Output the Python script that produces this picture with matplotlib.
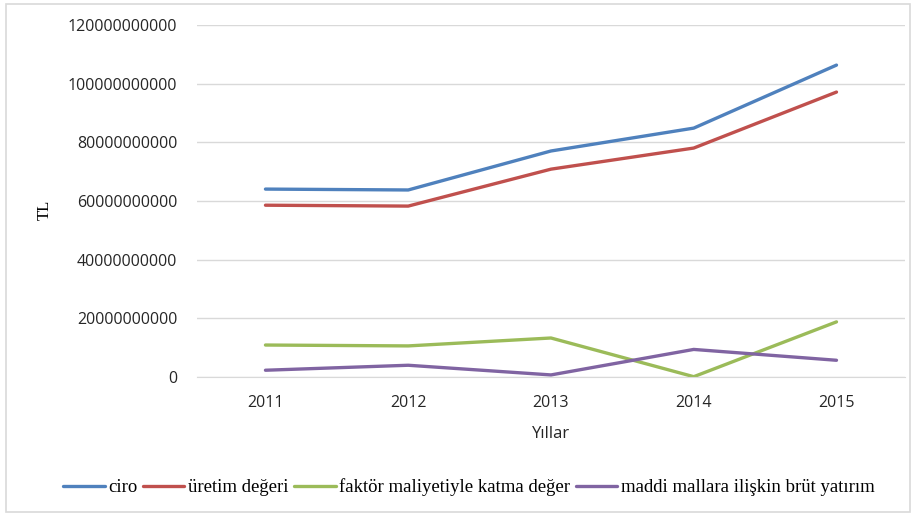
import matplotlib
matplotlib.use('Agg')
import matplotlib.pyplot as plt
import numpy as np
from matplotlib.patches import Rectangle

years = ['2011', '2012', '2013', '2014', '2015']
ciro = [64.1e9, 63.8e9, 77.1e9, 84.9e9, 106.4e9]
uretim = [58.6e9, 58.3e9, 70.9e9, 78.1e9, 97.2e9]
faktor = [10.9e9, 10.6e9, 13.3e9, 0.1e9, 18.8e9]
yatirim = [2.3e9, 4.0e9, 0.7e9, 9.4e9, 5.7e9]

series = [
    ('ciro', ciro, '#4F81BD'),
    ('üretim değeri', uretim, '#C0504D'),
    ('faktör maliyetiyle katma değer', faktor, '#9BBB59'),
    ('maddi mallara ilişkin brüt yatırım', yatirim, '#8064A2'),
]
yticks = np.arange(0, 120e9 + 1, 20e9)

fig = plt.figure(figsize=(9.16, 5.15), dpi=100)
ax = fig.add_axes([0.215, 0.268, 0.773, 0.683])

x = np.arange(len(years))
for name, vals, col in series:
    ax.plot(x, vals, color=col, lw=2.4, label=name, solid_capstyle='round')

ax.set_xlim(-0.48, len(years) - 0.52)
ax.set_ylim(0, 120e9)
ax.set_yticks(yticks)
ax.set_yticklabels(['%d' % v for v in yticks], family='Open Sans', fontsize=11.5, color='#262626')
ax.set_xticks(x)
ax.set_xticklabels(years, family='Open Sans', fontsize=11.5, color='#262626')
ax.tick_params(axis='both', length=0)
ax.tick_params(axis='y', pad=14)
ax.tick_params(axis='x', pad=13)
ax.grid(axis='y', color='#D9D9D9', lw=1)
ax.set_axisbelow(True)
for s in ['top', 'right', 'left']:
    ax.spines[s].set_visible(False)
ax.spines['bottom'].set_color('#D9D9D9')

ax.set_xlabel('Yıllar', family='Open Sans', fontsize=12, color='#262626', labelpad=10.5)
fig.text(0.049, 0.592, 'TL', rotation=90, family='Liberation Serif', fontsize=12,
         ha='center', va='center')

fig.legend(loc='center', bbox_to_anchor=(0.512, 0.054), ncol=4, frameon=False,
           prop={'family': 'Liberation Serif', 'size': 13.5}, handlelength=2.2,
           handletextpad=0.2, columnspacing=0.3)

fig.patches.append(Rectangle((0.007, 0.005), 0.986, 0.988, transform=fig.transFigure,
                             fill=False, ec='#D9D9D9', lw=1.2))

fig.savefig('out.png', dpi=100)
